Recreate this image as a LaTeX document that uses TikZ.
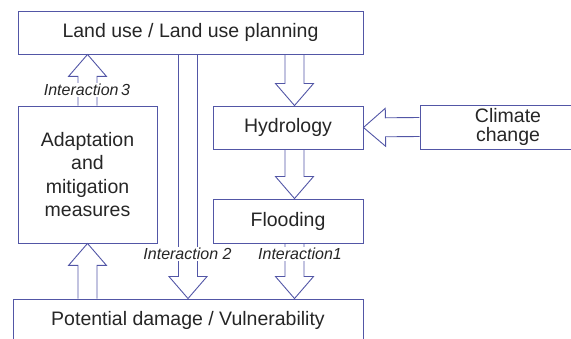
\documentclass[tikz,border=0pt]{standalone}
\usepackage{fontspec}
\setmainfont{Liberation Sans}
\usetikzlibrary{calc}

\definecolor{framec}{RGB}{82,86,166}
\tikzset{
  box/.style={draw=framec, line width=0.9pt, inner sep=0pt, align=center,
    font=\fontsize{19.5}{23.5}\selectfont, text=black!85},
  ilabel/.style={fill=white, inner sep=1pt, font=\fontsize{16}{19}\selectfont\itshape, text=black!85},
  fatline/.style={draw=framec, line width=0.9pt},
}
% hollow block arrow from #1 to #2
\newcommand\fatarrow[2]{%
  \draw[fatline] let \p1=(#1), \p2=(#2), \n1={atan2(\y2-\y1,\x2-\x1)}, \n2={veclen(\x2-\x1,\y2-\y1)} in
    [shift={(\p1)}, rotate=\n1] (0,-9.5) -- (\n2-22,-9.5) -- (\n2-22,-19) -- (\n2,0) -- (\n2-22,19) -- (\n2-22,9.5) -- (0,9.5);
}

\begin{document}
\begin{tikzpicture}[x=1pt, y=-1pt]
\useasboundingbox (0,0) rectangle (571,339);
\clip (0,0) rectangle (571,339);

\node[box, minimum width=345pt, minimum height=43pt] (landuse) at (190.5,32.5) {Land use / Land use planning};
\node[box, minimum width=139pt, minimum height=137pt] (adapt) at (87.5,174.5) {Adaptation\\and\\mitigation\\measures};
\node[box, minimum width=150pt, minimum height=43pt] (hydro) at (288,127.5) {Hydrology};
\node[box, minimum width=176pt, minimum height=44pt, font=\fontsize{19.5}{19}\selectfont] (climate) at (508,127) {Climate\\change};
\node[box, minimum width=150pt, minimum height=44pt] (flood) at (288,221) {Flooding};
\node[box, minimum width=350pt, minimum height=43pt] (damage) at (188,320.5) {Potential damage / Vulnerability};

% arrow ends
\coordinate (hydtop) at ([xshift=6.5pt]hydro.north);
\coordinate (hydbot) at ([xshift=6.5pt]hydro.south);
\coordinate (fldtop) at ([xshift=6.5pt]flood.north);
\coordinate (fldbot) at ([xshift=6.5pt]flood.south);

\fatarrow{adapt.north}{adapt.north |- landuse.south}
\fatarrow{damage.north |- landuse.south}{damage.north}
\fatarrow{hydtop |- landuse.south}{hydtop}
\fatarrow{climate.west}{hydro.east}
\fatarrow{hydbot}{fldtop}
\fatarrow{fldbot}{fldbot |- damage.north}
\fatarrow{adapt.south |- damage.north}{adapt.south}

\node[ilabel] (int3) at (87,90) {Interaction\,3};
\node[ilabel] (int2) at (187.5,254) {Interaction 2};
\node[ilabel] (int1) at (300,254) {Interaction1};
\end{tikzpicture}
\end{document}
